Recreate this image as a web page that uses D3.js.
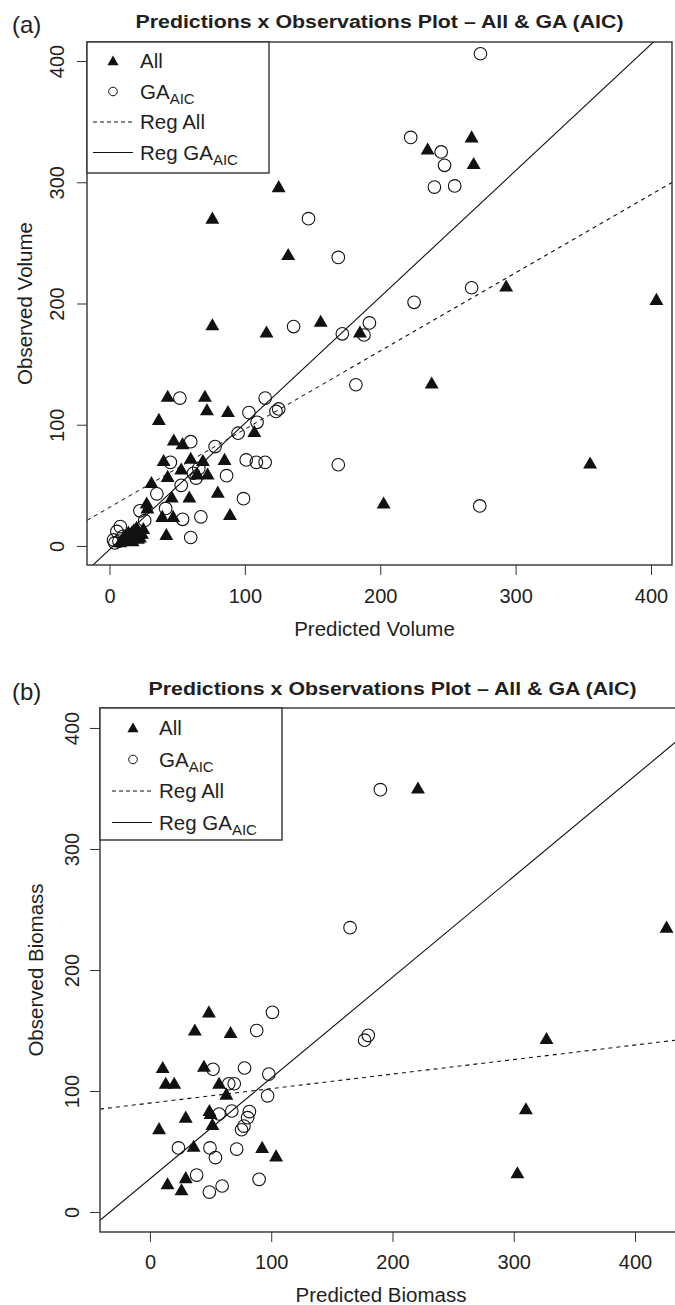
<!DOCTYPE html>
<meta charset="utf-8">
<script src="https://d3js.org/d3.v7.min.js"></script>
<style>
  * { margin: 0; padding: 0; }
  body { background: #fff; }
  svg text { font-family: "Liberation Sans", Arial, Helvetica, sans-serif; fill: #231f20; }
  .frame { fill: none; stroke: #333; stroke-width: 1.4; }
  .tick line { stroke: #333; }
</style>
<body>
<div id="chart"></div>
<script>
// ---- data ----
// (a) volume
var volAllX = [125, 76, 132, 76, 116, 156, 185, 235, 267.5, 269, 293, 404, 238, 355, 202.5,
  43, 70.5, 72, 87.5, 36.5, 107, 47.5, 54, 40, 60, 69, 85, 31, 43, 53, 64.5, 72.5, 80, 59, 46,
  39, 47, 89, 42, 27.5, 28, 20, 16.5, 22.5, 13, 8, 18, 24, 11,
  15, 19, 22, 25, 17, 21, 14, 10];
var volAllY = [296, 270, 240, 182, 176, 185, 176, 327, 337, 315, 214, 203, 134, 68, 35,
  123, 123, 112, 110.5, 104, 94, 87, 84, 70, 72, 70, 71, 52, 57, 63, 59, 59, 44, 40, 40,
  24, 24, 25.5, 9, 35, 31, 15, 11, 7, 5, 3, 13, 10, 8,
  8, 12, 10, 14, 4, 6, 11, 6];
var volGaX = [274, 222.5, 245, 247.5, 240, 255, 147, 169, 136, 172, 192, 188, 225, 267.5, 182,
  169, 273.5, 115, 125, 103, 109, 95, 52, 123, 78, 60, 101, 108.5, 115, 45, 86.5, 66, 64, 53,
  35, 41.5, 22.5, 26, 54, 67.5, 99, 60, 8, 5.5, 4, 3, 62, 7, 10];
var volGaY = [406, 337, 325, 314, 296, 297, 270, 238, 181, 175, 184, 174, 201, 213, 133,
  67, 33, 122, 113, 110, 102, 93, 122, 111, 82, 86, 71, 69, 69, 69, 58, 64, 56, 50,
  43, 31, 29, 21, 22, 24, 39, 7, 16, 12, 2.5, 5, 60, 4, 8];
// (b) biomass
var bioAllX = [221, 426, 327, 310, 303, 48.6, 37, 66.5, 10.5, 44.5, 13, 20, 57, 63, 29.5, 49, 50,
  7.5, 51.5, 36, 92.5, 104, 14.5, 29.5, 26];
var bioAllY = [350, 235, 143, 85, 32, 165, 150, 148, 119, 120, 106, 106, 106, 97, 78, 83.5, 81,
  68.5, 72, 54, 53, 46, 23, 28, 18];
var bioGaX = [190, 165, 177, 180, 101, 88, 52, 78, 98, 65, 69.5, 97, 57, 67.5, 82, 80.5, 77.5, 75.5,
  23.5, 49.5, 54, 71.5, 38.5, 59.5, 49, 90];
var bioGaY = [349, 235, 142, 146, 165, 150, 118, 119, 114, 106, 106, 96, 81, 83.5, 83, 78, 71, 68,
  53, 53, 45, 52, 30.5, 21.5, 16.5, 27];
// regression lines [intercept, slope]
var volRegAll = [31.8, 0.645];
var volRegGa = [-3, 1.042];
var bioRegAll = [90, 0.12];
var bioRegGa = [27.5, 0.8325];
var yTicks = [0, 100, 200, 300, 400];
var xTicks = [0, 100, 200, 300, 400];
var legendLabels = ["All", "GA", "Reg All", "Reg GA"];

var panels = [
  {tag: "(a)", xLab: "Predicted Volume", yLab: "Observed Volume",
   allX: volAllX, allY: volAllY, gaX: volGaX, gaY: volGaY, regAll: volRegAll, regGa: volRegGa,
   box: {l: 87, t: 42, r: 672, b: 565}, xDom: [-16.6, 415.5], yDom: [-15.7, 415.7],
   titleY: 28, tagX: 12, tagY: 33, yTickX: 64, yLabX: 32, xTickY: 603, xLabY: 636,
   leg: {w: 182, h: 131, sx: 113, lx0: 93, lx1: 133, tx: 140, y0: 19, dy: 30.5}},
  {tag: "(b)", xLab: "Predicted Biomass", yLab: "Observed Biomass",
   allX: bioAllX, allY: bioAllY, gaX: bioGaX, gaY: bioGaY, regAll: bioRegAll, regGa: bioRegGa,
   box: {l: 100, t: 708, r: 685, b: 1232}, xDom: [-41.2, 441.2], yDom: [-16.5, 416.5],
   titleY: 695, tagX: 12, tagY: 700, yTickX: 79, yLabX: 43, xTickY: 1269, xLabY: 1302,
   leg: {w: 182, h: 132, sx: 133, lx0: 112, lx1: 152, tx: 159, y0: 20, dy: 31.5}}
];

var svg = d3.select("#chart").append("svg")
  .attr("width", 675).attr("height", 1305);

var tri = d3.symbol().type(d3.symbolTriangle).size(84);
var triSmall = d3.symbol().type(d3.symbolTriangle).size(54);

panels.forEach(function(p, i) {
  var x = d3.scaleLinear().domain(p.xDom).range([p.box.l, p.box.r]);
  var y = d3.scaleLinear().domain(p.yDom).range([p.box.b, p.box.t]);
  var g = svg.append("g");
  var mid = (p.box.l + p.box.r) / 2;

  g.append("clipPath").attr("id", "clip" + i)
    .append("rect").attr("x", p.box.l).attr("y", p.box.t)
    .attr("width", p.box.r - p.box.l).attr("height", p.box.b - p.box.t);

  // title and tag
  g.append("text").attr("x", mid - 244).attr("y", p.titleY)
    .style("font-weight", "bold").style("font-size", "18px")
    .attr("textLength", 488).attr("lengthAdjust", "spacingAndGlyphs")
    .text("Predictions x Observations Plot \u2013 All & GA (AIC)");
  g.append("text").attr("x", p.tagX).attr("y", p.tagY).style("font-size", "24px").text(p.tag);

  // axes
  var xa = g.append("g").attr("transform", "translate(0," + p.box.b + ")")
    .call(d3.axisBottom(x).tickValues(xTicks).tickSize(10).tickFormat(d3.format("d")));
  xa.select(".domain").remove();
  xa.selectAll("text").attr("dy", null).style("font-size", "20px")
    .attr("y", p.xTickY - p.box.b);

  var ya = g.append("g").attr("transform", "translate(" + p.box.l + ",0)")
    .call(d3.axisLeft(y).tickValues(yTicks).tickSize(10).tickFormat(d3.format("d")));
  ya.select(".domain").remove();
  ya.selectAll("text")
    .attr("x", null).attr("dy", null).attr("text-anchor", "middle")
    .style("font-size", "20px")
    .attr("transform", "translate(" + (p.yTickX - p.box.l) + ",0) rotate(-90)");

  g.append("text").attr("x", (p.box.l + Math.min(p.box.r, 672)) / 2 - 5).attr("y", p.xLabY)
    .attr("text-anchor", "middle").style("font-size", "20.5px").text(p.xLab);
  g.append("text")
    .attr("transform", "translate(" + p.yLabX + "," + (p.box.t + p.box.b) / 2 + ") rotate(-90)")
    .attr("text-anchor", "middle").style("font-size", "20.5px").text(p.yLab);

  var plot = g.append("g").attr("clip-path", "url(#clip" + i + ")");

  // regression lines
  var reg = function(c) {
    return [[x(p.xDom[0]), y(c[0] + c[1] * p.xDom[0])], [x(p.xDom[1]), y(c[0] + c[1] * p.xDom[1])]];
  };
  plot.append("path").attr("d", d3.line()(reg(p.regAll)))
    .attr("fill", "none").attr("stroke", "#111").attr("stroke-width", 1.1)
    .attr("stroke-dasharray", "4,4");
  plot.append("path").attr("d", d3.line()(reg(p.regGa)))
    .attr("fill", "none").attr("stroke", "#111").attr("stroke-width", 1.1);

  // points
  plot.selectAll(".ga").data(d3.range(p.gaX.length)).enter().append("circle")
    .attr("class", "ga")
    .attr("cx", function(k) { return x(p.gaX[k]); })
    .attr("cy", function(k) { return y(p.gaY[k]); })
    .attr("r", 6.3).attr("fill", "none").attr("stroke", "#111").attr("stroke-width", 1.1);
  plot.selectAll(".all").data(d3.range(p.allX.length)).enter().append("path")
    .attr("class", "all")
    .attr("d", tri)
    .attr("transform", function(k) { return "translate(" + x(p.allX[k]) + "," + (y(p.allY[k]) + 1) + ")"; })
    .attr("fill", "#111");

  // frame
  g.append("rect").attr("class", "frame")
    .attr("x", p.box.l).attr("y", p.box.t)
    .attr("width", p.box.r - p.box.l).attr("height", p.box.b - p.box.t);

  // legend
  var L = p.leg;
  var lg = g.append("g").attr("transform", "translate(0," + p.box.t + ")");
  lg.append("rect").attr("x", p.box.l).attr("y", 0).attr("width", L.w).attr("height", L.h)
    .attr("fill", "#fff").attr("stroke", "#333").attr("stroke-width", 1.4);
  lg.append("path").attr("d", triSmall)
    .attr("transform", "translate(" + L.sx + "," + (L.y0 + 1) + ")").attr("fill", "#111");
  lg.append("circle").attr("cx", L.sx).attr("cy", L.y0 + L.dy).attr("r", 4.3)
    .attr("fill", "none").attr("stroke", "#111").attr("stroke-width", 1);
  lg.append("line").attr("x1", L.lx0).attr("x2", L.lx1)
    .attr("y1", L.y0 + 2 * L.dy).attr("y2", L.y0 + 2 * L.dy)
    .attr("stroke", "#111").attr("stroke-dasharray", "4,3");
  lg.append("line").attr("x1", L.lx0).attr("x2", L.lx1)
    .attr("y1", L.y0 + 3 * L.dy).attr("y2", L.y0 + 3 * L.dy)
    .attr("stroke", "#111");
  legendLabels.forEach(function(lab, j) {
    var t = lg.append("text").attr("x", L.tx).attr("y", L.y0 + j * L.dy + 7)
      .style("font-size", "20.5px").text(lab);
    if (j % 2 == 1) {
      t.append("tspan").attr("dy", 5).style("font-size", "15px").text("AIC");
    }
  });
});
</script>
</body>
